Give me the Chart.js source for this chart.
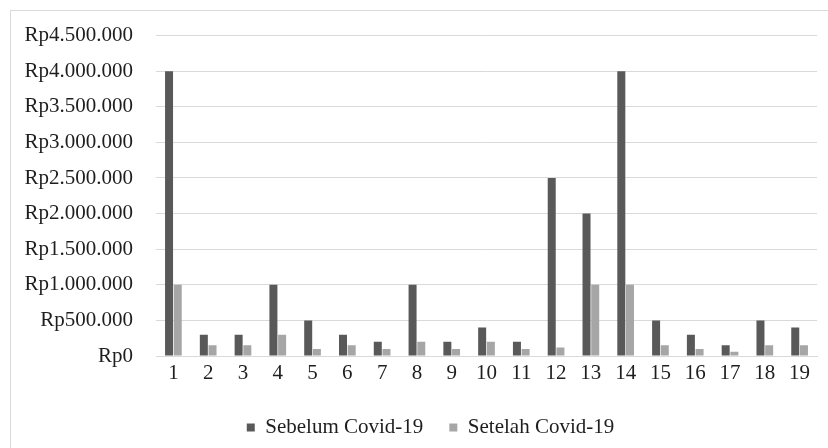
<!DOCTYPE html>
<html>
<head>
<meta charset="utf-8">
<script src="https://cdn.jsdelivr.net/npm/chart.js@4"></script>
<style>
  body { margin: 0; background: #fff; }
  #frame {
    position: absolute; left: 10px; top: 10px;
    width: 840px; height: 460px;
    border: 1px solid #d9d9d9;
  }
  #wrap { position: absolute; left: 0; top: 0; width: 828px; height: 448px; }
</style>
</head>
<body>
<div id="frame"></div>
<div id="wrap"><canvas id="chart" width="828" height="448"></canvas></div>
<script>
const labels = ["1", "2", "3", "4", "5", "6", "7", "8", "9", "10",
  "11", "12", "13", "14", "15", "16", "17", "18", "19"];
const sebelum = [4000000, 300000, 300000, 1000000, 500000, 300000, 200000, 1000000, 200000, 400000,
  200000, 2500000, 2000000, 4000000, 500000, 300000, 150000, 500000, 400000];
const setelah = [1000000, 150000, 150000, 300000, 100000, 150000, 100000, 200000, 100000, 200000,
  100000, 120000, 1000000, 1000000, 150000, 100000, 60000, 150000, 150000];

const textColor = "#1e1e1e";
const font = { family: "'Liberation Serif', 'Times New Roman', serif", size: 21 };

function rupiah(v) {
  return "Rp" + String(v).replace(/\B(?=(\d{3})+(?!\d))/g, ".");
}

// legend in the reference sits a bit right of the canvas centre
const shiftLegend = {
  id: "shiftLegend",
  afterLayout(chart) {
    chart.legend.left += 22;
    chart.legend.right += 22;
  },
};

const ctx = document.getElementById("chart");
const chart = new Chart(ctx, {
  type: "bar",
  data: {
    labels: labels,
    datasets: [
      {
        label: "Sebelum Covid-19",
        data: sebelum,
        backgroundColor: "#595959",
        categoryPercentage: 0.5,
        barPercentage: 0.92,
      },
      {
        label: "Setelah Covid-19",
        data: setelah,
        backgroundColor: "#a6a6a6",
        categoryPercentage: 0.5,
        barPercentage: 0.92,
      },
    ],
  },
  options: {
    responsive: false,
    animation: false,
    layout: { padding: { top: 35, right: 11, bottom: 0, left: 0 } },
    plugins: {
      tooltip: { enabled: false },
      legend: {
        position: "bottom",
        labels: {
          color: textColor,
          font: font,
          boxWidth: 8,
          boxHeight: 8,
          padding: 26,
        },
      },
    },
    scales: {
      x: {
        grid: { display: false, drawTicks: false },
        border: { display: true, color: "#d9d9d9", width: 1 },
        ticks: { color: textColor, font: font, padding: 5, maxRotation: 0 },
        afterFit: (scale) => { scale.height = 35; },
      },
      y: {
        min: 0,
        max: 4500000,
        grid: { color: "#d9d9d9", lineWidth: 1, drawTicks: false },
        border: { display: false },
        ticks: {
          stepSize: 500000,
          color: textColor,
          font: font,
          padding: 23,
          callback: (v) => rupiah(v),
        },
        afterFit: (scale) => { scale.width = 156; },
      },
    },
  },
  plugins: [shiftLegend],
});
</script>
</body>
</html>
